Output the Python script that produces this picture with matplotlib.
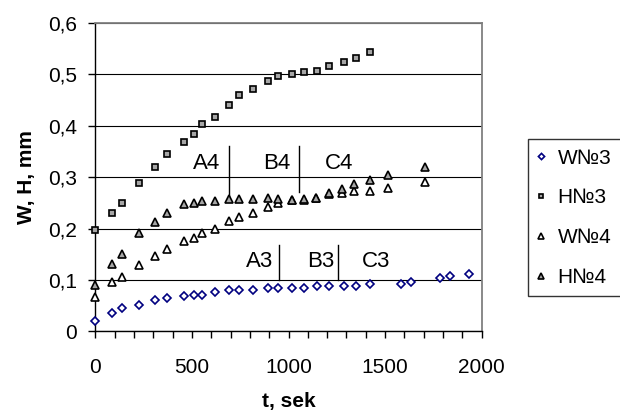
import matplotlib
matplotlib.use('Agg')
import matplotlib.pyplot as plt
from matplotlib.ticker import MultipleLocator, FuncFormatter

plt.rcParams['font.family'] = ['Liberation Sans', 'DejaVu Sans']

# measurement times, s
t3 = [0, 85, 138, 224, 311, 372, 459, 511, 554, 618, 693, 745, 818, 892, 947,
      1020, 1082, 1149, 1211, 1286, 1349, 1422, 1584, 1636, 1784, 1836, 1934]
w3 = [0.020, 0.036, 0.045, 0.052, 0.060, 0.064, 0.069, 0.0715, 0.0715, 0.076,
      0.0805, 0.0805, 0.0805, 0.084, 0.084, 0.084, 0.084, 0.088, 0.088, 0.088,
      0.088, 0.0915, 0.0915, 0.0955, 0.103, 0.108, 0.112]
h3 = [0.197, 0.230, 0.249, 0.288, 0.320, 0.345, 0.369, 0.384, 0.403, 0.417,
      0.440, 0.460, 0.472, 0.488, 0.496, 0.500, 0.504, 0.507, 0.516, 0.524,
      0.531, 0.544]

t4 = [0, 85, 138, 224, 311, 372, 459, 511, 554, 618, 693, 745, 818, 892, 947,
      1020, 1082, 1142, 1210, 1279, 1341, 1422, 1517, 1706]
w4 = [0.067, 0.095, 0.106, 0.129, 0.146, 0.160, 0.175, 0.182, 0.191, 0.199,
      0.215, 0.222, 0.231, 0.242, 0.2495, 0.256, 0.255, 0.259, 0.267, 0.269,
      0.274, 0.274, 0.279, 0.290]
h4 = [0.090, 0.131, 0.150, 0.191, 0.2135, 0.230, 0.2475, 0.2495, 0.254, 0.254,
      0.257, 0.257, 0.257, 0.259, 0.257, 0.256, 0.257, 0.260, 0.270, 0.277,
      0.287, 0.295, 0.305, 0.320]

# stage markers: (label, x of label, y of label, x of line or None, line y range)
stages4 = [('A4', 577, 0.326, 694, (0.258, 0.360)),
           ('B4', 939, 0.326, 1056, (0.272, 0.360)),
           ('C4', 1263, 0.326, None, None)]
stages3 = [('A3', 852, 0.136, 951, (0.100, 0.168)),
           ('B3', 1168, 0.136, 1258, (0.100, 0.168)),
           ('C3', 1453, 0.136, None, None)]

fig = plt.figure(figsize=(6.2, 4.18), dpi=100)
ax = fig.add_axes([0.1537, 0.2074, 0.6233, 0.7376])

ax.plot(t3, w3, linestyle='none', marker='D', ms=4.2, mfc='white', mec='#000080',
        mew=1.2, label='W№3', zorder=3, clip_on=False)
ax.plot(t3[:len(h3)], h3, linestyle='none', marker='s', ms=4.8, mfc='#a6a6a6', mec='black',
        mew=1.2, label='H№3', zorder=3, clip_on=False)
ax.plot(t4, w4, linestyle='none', marker='^', ms=6, mfc='white', mec='black',
        mew=1.2, label='W№4', zorder=3, clip_on=False)
ax.plot(t4, h4, linestyle='none', marker='^', ms=6, mfc='#a6a6a6', mec='black',
        mew=1.2, label='H№4', zorder=3, clip_on=False)

for lab, xl, yl, xv, yr in stages4 + stages3:
    ax.text(xl, yl, lab, fontsize=16, ha='center', va='center')
    if xv is not None:
        ax.plot([xv, xv], yr, color='black', lw=1.0, zorder=2)

ax.set_xlim(0, 2000)
ax.set_ylim(0, 0.6)
ax.xaxis.set_major_locator(MultipleLocator(500))
ax.xaxis.set_minor_locator(MultipleLocator(100))
ax.yaxis.set_major_locator(MultipleLocator(0.1))
ax.yaxis.set_major_formatter(FuncFormatter(lambda v, p: '0' if abs(v) < 1e-9 else ('%.1f' % v).replace('.', ',')))

ax.yaxis.grid(True, color='black', lw=0.8)
ax.set_axisbelow(True)
for s in ['top', 'right']:
    ax.spines[s].set_color('#808080')
    ax.spines[s].set_linewidth(1.3)
for s in ['left', 'bottom']:
    ax.spines[s].set_color('black')
    ax.spines[s].set_linewidth(1.0)

ax.tick_params(axis='both', which='both', direction='out', length=5, width=1.0, labelsize=15)
ax.tick_params(axis='x', which='major', pad=14)
ax.tick_params(axis='y', pad=8)

ax.set_xlabel('t, sek', fontsize=15, fontweight='bold', labelpad=11)
ax.set_ylabel('W, H, mm', fontsize=15, fontweight='bold', labelpad=9)

leg = fig.legend(loc='upper left', bbox_to_anchor=(0.852, 0.667), fontsize=15,
                 frameon=True, fancybox=False, labelspacing=1.0, handlelength=0.35,
                 handletextpad=0.6, borderpad=0.45, borderaxespad=0, markerscale=0.75)
leg.get_frame().set_edgecolor('black')
leg.get_frame().set_linewidth(1.0)

fig.savefig('out.png', dpi=100)
